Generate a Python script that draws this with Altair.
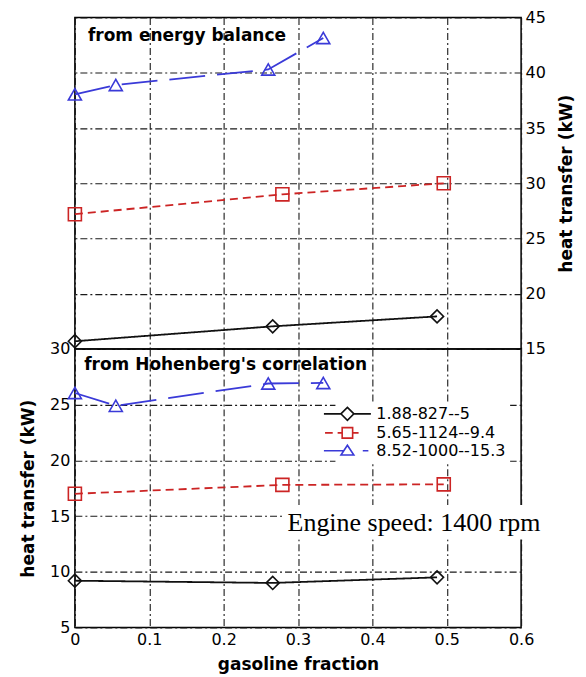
import altair as alt
import pandas as pd

# ---------------- data ----------------
SERIES = ["1.88-827--5", "5.65-1124--9.4", "8.52-1000--15.3"]
COLORS = ["#111111", "#cc2424", "#3a3ad8"]
DASHES = [[1, 0], [8, 5], [36, 12]]
SHAPES = ["diamond", "square", "triangle-up"]
LEGEND_SYMBOLS = [
    "M-3.36,0H-0.93M0.93,0H3.36M0,-0.93L0.93,0L0,0.93L-0.93,0Z",
    "M-3.2,0H-2.1M-1.4,0H-0.75M0.75,0H1.6M-0.75,-0.75H0.75V0.75H-0.75Z",
    "M-3.36,0H-0.6M2.2,0H3.0M0,-0.8L0.92,0.6L-0.92,0.6Z",
]

X_BLACK = [0.0, 0.266, 0.487]
X_RED = [0.0, 0.279, 0.496]
X_BLUE = [0.0, 0.055, 0.260, 0.334]

TOP_BLACK = [15.7, 17.05, 17.95]
TOP_RED = [27.2, 29.0, 30.0]
TOP_BLUE = [38.05, 38.9, 40.3, 43.15]

BOT_BLACK = [9.2, 9.0, 9.5]
BOT_RED = [17.0, 17.8, 17.85]
BOT_BLUE = [26.05, 24.9, 26.9, 26.95]

X_TICKS = [0, 0.1, 0.2, 0.3, 0.4, 0.5, 0.6]
TOP_TICKS = [15, 20, 25, 30, 35, 40, 45]
BOT_TICKS = [5, 10, 15, 20, 25, 30]

PANEL_TITLES = ["from energy balance", "from Hohenberg's correlation"]
TITLE_X = [0.0175, 0.0125]
TITLE_Y = [42.9, 28.1]

NOTE_TEXT = ["Engine speed: 1400 rpm"]
NOTE_X = [0.286]
NOTE_Y = [13.65]
NOTE_BOX_X = [0.281, 0.635]
NOTE_BOX_Y = [12.9, 16.0]

Y_TITLE = "heat transfer (kW)"
X_TITLE = "gasoline fraction"


def series_frame(blk, red, blu):
    rows = []
    for name, xs, ys in zip(SERIES, [X_BLACK, X_RED, X_BLUE], [blk, red, blu]):
        for xv, yv in zip(xs, ys):
            rows.append({"series": name, "x": xv, "y": yv})
    return pd.DataFrame(rows)


top_df = series_frame(TOP_BLACK, TOP_RED, TOP_BLUE)
bot_df = series_frame(BOT_BLACK, BOT_RED, BOT_BLUE)

FONT = "DejaVu Sans"
GRID = dict(grid=True, gridColor="#1a1a1a", gridDash=[7, 3, 2, 3], gridWidth=1.1, gridOpacity=1)

W = 447
H_TOP = 332
H_BOT = 279

x_scale = alt.Scale(domain=[0, 0.6], nice=False, zero=False)


def make_layers(df, y_enc, x_enc):
    color = alt.Color("series:N", scale=alt.Scale(domain=SERIES, range=COLORS), legend=None)
    lines = alt.Chart(df).mark_line(strokeWidth=1.8).encode(
        x=x_enc, y=y_enc, color=color,
        strokeDash=alt.StrokeDash("series:N", scale=alt.Scale(domain=SERIES, range=DASHES), legend=None),
    )
    points = alt.Chart(df).mark_point(filled=False, strokeWidth=1.6, opacity=1, size=170).encode(
        x=x_enc, y=y_enc, color=color,
        shape=alt.Shape("series:N", scale=alt.Scale(domain=SERIES, range=SHAPES), legend=None),
    )
    return lines, points


# ---------- top panel ----------
x_top = alt.X("x:Q", scale=x_scale, axis=alt.Axis(values=X_TICKS, labels=False, ticks=False,
                                                   domain=False, title=None, **GRID))
y_top = alt.Y("y:Q", scale=alt.Scale(domain=[15, 45], nice=False, zero=False),
              axis=alt.Axis(orient="right", values=TOP_TICKS, ticks=False, domain=False,
                            labelFont=FONT, labelFontSize=16, labelColor="black", labelPadding=4,
                            labelFlush=False,
                            title=Y_TITLE, titleAngle=270, titleFont=FONT, titleFontSize=17,
                            titleFontWeight="bold", titleColor="black", titlePadding=30, **GRID))
tl, tp = make_layers(top_df, y_top, x_top)
top_title = alt.Chart(pd.DataFrame({"t": PANEL_TITLES[:1], "x": TITLE_X[:1], "y": TITLE_Y[:1]})).mark_text(
    align="left", baseline="alphabetic", font=FONT, fontSize=17, fontWeight="bold", color="black"
).encode(x=x_top, y=y_top, text="t:N")
top = alt.layer(tl, tp, top_title).properties(width=W, height=H_TOP)

# ---------- bottom panel ----------
x_bot = alt.X("x:Q", scale=x_scale,
              axis=alt.Axis(values=X_TICKS, format=".1~f", ticks=False, domain=False,
                            labelFont=FONT, labelFontSize=16, labelColor="black", labelPadding=4,
                            labelFlush=False,
                            title=X_TITLE, titleFont=FONT, titleFontSize=17, titleFontWeight="bold",
                            titleColor="black", titlePadding=9, **GRID))
y_bot = alt.Y("y:Q", scale=alt.Scale(domain=[5, 30], nice=False, zero=False),
              axis=alt.Axis(orient="left", values=BOT_TICKS, ticks=False, domain=False,
                            labelFont=FONT, labelFontSize=16, labelColor="black", labelPadding=5,
                            labelFlush=False,
                            title=Y_TITLE, titleFont=FONT, titleFontSize=17, titleFontWeight="bold",
                            titleColor="black", titlePadding=12, **GRID))
bl, bp = make_layers(bot_df, y_bot, x_bot)
bot_title = alt.Chart(pd.DataFrame({"t": PANEL_TITLES[1:], "x": TITLE_X[1:], "y": TITLE_Y[1:]})).mark_text(
    align="left", baseline="alphabetic", font=FONT, fontSize=17, fontWeight="bold", color="black"
).encode(x=x_bot, y=y_bot, text="t:N")

note_box = alt.Chart(pd.DataFrame({"x": NOTE_BOX_X[:1], "x2": NOTE_BOX_X[1:],
                                   "y": NOTE_BOX_Y[:1], "y2": NOTE_BOX_Y[1:]})).mark_rect(
    color="white", opacity=1).encode(x=x_bot, x2="x2:Q", y=y_bot, y2="y2:Q")
note = alt.Chart(pd.DataFrame({"t": NOTE_TEXT, "x": NOTE_X, "y": NOTE_Y})).mark_text(
    align="left", baseline="alphabetic", font="Liberation Serif", fontSize=26, color="black"
).encode(x=x_bot, y=y_bot, text="t:N")

LEG = alt.Legend(title=None, orient="none", legendX=261, legendY=53, fillColor="white", padding=4,
                 labelFont=FONT, labelFontSize=16, labelColor="black", symbolSize=196,
                 symbolStrokeWidth=1.6, labelOffset=21, rowPadding=0)
legend_layer = alt.Chart(pd.DataFrame({"series": SERIES})).transform_filter("false").mark_point(
    filled=False, strokeWidth=1.6, opacity=1
).encode(
    shape=alt.Shape("series:N", scale=alt.Scale(domain=SERIES, range=LEGEND_SYMBOLS), legend=LEG),
    color=alt.Color("series:N", scale=alt.Scale(domain=SERIES, range=COLORS), legend=LEG),
)

bottom = alt.layer(bl, bp, bot_title, note_box, note, legend_layer).resolve_scale(
    color="independent", shape="independent", strokeDash="independent"
).properties(width=W, height=H_BOT)

chart = alt.vconcat(top, bottom, spacing=0, bounds="flush").properties(
    padding={"left": 10, "top": 0, "right": 2, "bottom": 0}
).configure_view(stroke="black", strokeWidth=1.5).configure_concat(spacing=0)

chart.save("out.html", embed_options={"renderer": "svg", "actions": False})
